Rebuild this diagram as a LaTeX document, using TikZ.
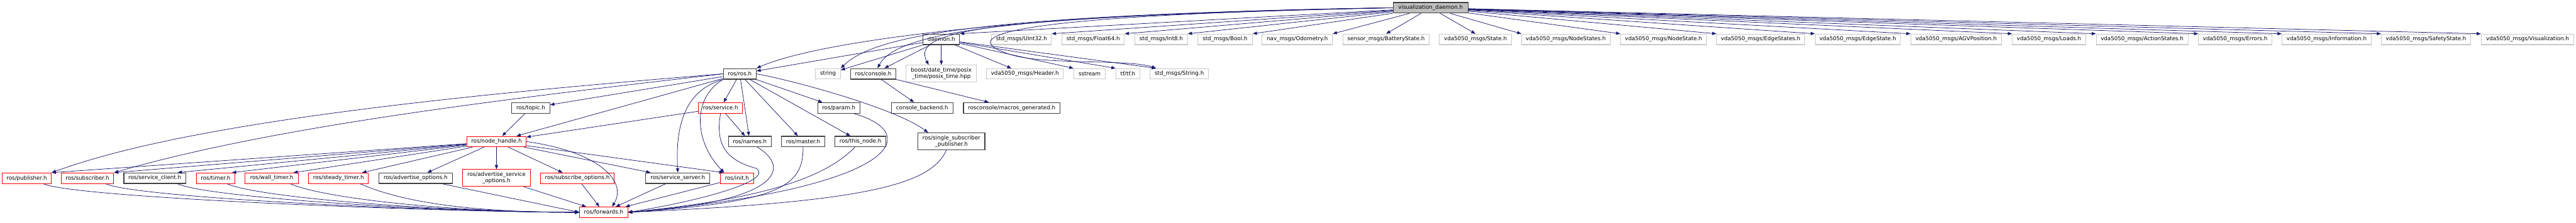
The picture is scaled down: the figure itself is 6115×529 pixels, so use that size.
\documentclass[tikz,border=0pt]{standalone}
\usepackage{fontspec}
\setmainfont{DejaVu Sans}
\usetikzlibrary{arrows.meta}
\definecolor{edgeblue}{HTML}{191970}
\definecolor{sysgray}{HTML}{C8C8C8}
\definecolor{rootgray}{HTML}{BFBFBF}

\begin{document}
\begin{tikzpicture}[
    x=1pt, y=-1pt,
    file/.style={rectangle, minimum height=25pt, inner sep=0pt, align=center, fill=white, font=\fontsize{13}{15}\selectfont, line width=1.5pt},
    docfile/.style={file, draw=black!75, line width=1.8pt},
    truncfile/.style={file, draw=red},
    sysfile/.style={file, draw=sysgray},
    rootfile/.style={file, draw=black!75, fill=rootgray, line width=1.8pt},
    dep/.style={draw=edgeblue, line width=1.1pt, -{Triangle[length=10pt,width=7.5pt]}}
]
    \useasboundingbox (0,0) rectangle (6115,529);

    % ================= ROOT =================
    \node[rootfile, minimum width=178pt] (VD) at (3396,18.5) {visualization\_daemon.h};

    % ================= DIRECT INCLUDES =================
    \node[docfile, minimum width=87pt] (DAEMON) at (2234.5,93.5) {daemon.h};
    \node[sysfile, minimum width=142pt] (UINT) at (2425,93.5) {std\_msgs/UInt32.h};
    \node[sysfile, minimum width=148pt] (FLOAT) at (2595,93.5) {std\_msgs/Float64.h};
    \node[sysfile, minimum width=125pt] (INT) at (2756.5,93.5) {std\_msgs/Int8.h};
    \node[sysfile, minimum width=130pt] (BOOL) at (2908,93.5) {std\_msgs/Bool.h};
    \node[sysfile, minimum width=167pt] (ODOM) at (3079.5,93.5) {nav\_msgs/Odometry.h};
    \node[sysfile, minimum width=205pt] (BATT) at (3290.5,93.5) {sensor\_msgs/BatteryState.h};
    \node[sysfile, minimum width=171pt] (STATE) at (3502.5,93.5) {vda5050\_msgs/State.h};
    \node[sysfile, minimum width=210pt] (NSTATES) at (3717,93.5) {vda5050\_msgs/NodeStates.h};
    \node[sysfile, minimum width=204pt] (NSTATE) at (3949,93.5) {vda5050\_msgs/NodeState.h};
    \node[sysfile, minimum width=209pt] (ESTATES) at (4179.5,93.5) {vda5050\_msgs/EdgeStates.h};
    \node[sysfile, minimum width=202pt] (ESTATE) at (4410,93.5) {vda5050\_msgs/EdgeState.h};
    \node[sysfile, minimum width=215pt] (AGVPOS) at (4643.5,93.5) {vda5050\_msgs/AGVPosition.h};
    \node[sysfile, minimum width=174pt] (LOADS) at (4864,93.5) {vda5050\_msgs/Loads.h};
    \node[sysfile, minimum width=218pt] (ASTATES) at (5085,93.5) {vda5050\_msgs/ActionStates.h};
    \node[sysfile, minimum width=174pt] (ERRORS) at (5306,93.5) {vda5050\_msgs/Errors.h};
    \node[sysfile, minimum width=212pt] (INFO) at (5523,93.5) {vda5050\_msgs/Information.h};
    \node[sysfile, minimum width=212pt] (SAFETY) at (5759,93.5) {vda5050\_msgs/SafetyState.h};
    \node[sysfile, minimum width=220pt] (VISU) at (6000,93.5) {vda5050\_msgs/Visualization.h};

    % ================= SECOND LEVEL =================
    \node[docfile, minimum width=78pt] (ROSH) at (1756,175.5) {ros/ros.h};
    \node[sysfile, minimum width=59pt] (STRING) at (1965.5,175.5) {string};
    \node[docfile, minimum width=108pt] (CONSOLE) at (2073,175.5) {ros/console.h};
    \node[sysfile, minimum width=167pt, minimum height=40pt] (BOOST) at (2234.5,175) {boost/date\_time/posix\\\_time/posix\_time.hpp};
    \node[sysfile, minimum width=182pt] (HEADER) at (2433,175.5) {vda5050\_msgs/Header.h};
    \node[sysfile, minimum width=75pt] (SSTREAM) at (2586.5,175.5) {sstream};
    \node[sysfile, minimum width=57pt] (TF) at (2677.5,175.5) {tf/tf.h};
    \node[sysfile, minimum width=139pt] (STRMSG) at (2799.5,175.5) {std\_msgs/String.h};

    \node[docfile, minimum width=90pt] (TOPIC) at (1260,256.5) {ros/topic.h};
    \node[truncfile, minimum width=105pt] (SERVICE) at (1710.5,256.5) {ros/service.h};
    \node[docfile, minimum width=100pt] (PARAM) at (1991,256.5) {ros/param.h};
    \node[docfile, minimum width=146pt] (BACKEND) at (2189,256.5) {console\_backend.h};
    \node[docfile, minimum width=229pt] (MACROS) at (2401.5,256.5) {rosconsole/macros\_generated.h};

    \node[truncfile, minimum width=141pt] (NH) at (1178.5,336.5) {ros/node\_handle.h};
    \node[docfile, minimum width=102pt] (NAMES) at (1780,336.5) {ros/names.h};
    \node[docfile, minimum width=103pt] (MASTER) at (1906.5,336.5) {ros/master.h};
    \node[docfile, minimum width=121pt] (THISNODE) at (2042.5,336.5) {ros/this\_node.h};
    \node[docfile, minimum width=159pt, minimum height=40pt] (SINGLE) at (2258.5,336) {ros/single\_subscriber\\\_publisher.h};

    % ================= NODE HANDLE LEVEL =================
    \node[truncfile, minimum width=117pt] (PUB) at (63.5,423.5) {ros/publisher.h};
    \node[truncfile, minimum width=125pt] (SUB) at (207.5,423.5) {ros/subscriber.h};
    \node[docfile, minimum width=147pt] (SRVCLIENT) at (367.5,423.5) {ros/service\_client.h};
    \node[truncfile, minimum width=92pt] (TIMER) at (512,423.5) {ros/timer.h};
    \node[truncfile, minimum width=126pt] (WALLTIMER) at (645,423.5) {ros/wall\_timer.h};
    \node[truncfile, minimum width=141pt] (STEADYTIMER) at (803.5,423.5) {ros/steady\_timer.h};
    \node[docfile, minimum width=175pt] (ADVOPTS) at (986.5,423.5) {ros/advertise\_options.h};
    \node[truncfile, minimum width=161pt, minimum height=40pt] (ADVSRVOPTS) at (1178.5,423) {ros/advertise\_service\\\_options.h};
    \node[truncfile, minimum width=175pt] (SUBOPTS) at (1370.5,423.5) {ros/subscribe\_options.h};
    \node[docfile, minimum width=152pt] (SRVSERVER) at (1609,423.5) {ros/service\_server.h};
    \node[truncfile, minimum width=79pt] (INIT) at (1749.5,423.5) {ros/init.h};

    \node[truncfile, minimum width=114pt] (FWD) at (1433,504.5) {ros/forwards.h};

    % ================= EDGES FROM ROOT =================
    \foreach \dst in {DAEMON,UINT,FLOAT,INT,BOOL,ODOM}
        \draw[dep] (VD) -- (\dst.north east);
    \draw[dep] (VD) -- (BATT.north);
    \draw[dep] (VD) -- (STATE.north);
    \foreach \dst in {NSTATES,NSTATE,ESTATES,ESTATE,AGVPOS,LOADS,ASTATES,ERRORS,INFO,SAFETY,VISU}
        \draw[dep] (VD) -- (\dst.north west);

    \draw[dep] (VD.west) .. controls (2450,30) and (1950,95) .. (ROSH.north east);
    \draw[dep] (VD.west) .. controls (2350,35) and (2080,80) .. (STRING.north east);
    \draw[dep] (VD.west) .. controls (2400,35) and (2130,75) .. ([xshift=10pt]CONSOLE.north);
    \draw[dep] (VD.west) .. controls (2350,40) and (2160,70) .. ([xshift=-30pt]BOOST.north);
    \draw[dep] (VD.west) .. controls (2450,35) and (2240,80) .. (2400,130)
        .. controls (2480,155) and (2680,140) .. ([xshift=15pt]STRMSG.north west);

    % ================= daemon.h =================
    \draw[dep] (DAEMON) -- (ROSH);
    \draw[dep] (DAEMON) -- (STRING);
    \draw[dep] (DAEMON) -- (CONSOLE);
    \draw[dep] (DAEMON) -- (BOOST);
    \draw[dep] (DAEMON) -- (HEADER);
    \draw[dep] (DAEMON) -- (SSTREAM.north west);
    \draw[dep] (DAEMON) -- (TF.north west);
    \draw[dep] (DAEMON) -- ([xshift=15pt]STRMSG.north west);

    % ================= ros/console.h =================
    \draw[dep] (CONSOLE) -- (BACKEND);
    \draw[dep] (CONSOLE) -- (MACROS);

    % ================= ros/ros.h =================
    \draw[dep] (ROSH.west) .. controls (1100,225) and (450,290) .. (PUB.north east);
    \draw[dep] (ROSH.west) .. controls (1200,235) and (650,300) .. (SUB.north east);
    \draw[dep] (ROSH) -- (TOPIC);
    \draw[dep] (ROSH) -- (NH);
    \draw[dep] (ROSH.south west) .. controls (1625,215) and (1603,300) .. (SRVSERVER.north);
    \draw[dep] (ROSH.south west) .. controls (1640,235) and (1650,340) .. ([xshift=10pt]INIT.north west);
    \draw[dep] (ROSH) -- (SERVICE);
    \draw[dep] (ROSH) -- (NAMES);
    \draw[dep] (ROSH) -- (MASTER);
    \draw[dep] (ROSH) -- (THISNODE);
    \draw[dep] (ROSH) -- (PARAM);
    \draw[dep] (ROSH.east) .. controls (1900,195) and (2130,260) .. ([xshift=25pt]SINGLE.north west);

    % ================= topic / service =================
    \draw[dep] (TOPIC) -- (NH);
    \draw[dep] (SERVICE) -- (NH);
    \draw[dep] (SERVICE) -- (NAMES);
    \draw[dep] (SERVICE.south) .. controls (1698,340) and (1720,380) .. (1795,400)
        .. controls (1840,430) and (1650,480) .. (FWD.east);

    % ================= ros/node_handle.h =================
    \draw[dep] (NH) -- (PUB.north east);
    \draw[dep] (NH) -- (SUB.north east);
    \draw[dep] (NH) -- ([xshift=-20pt]SRVCLIENT.north east);
    \draw[dep] (NH) -- ([xshift=-8pt]TIMER.north east);
    \draw[dep] (NH) -- ([xshift=-12pt]WALLTIMER.north east);
    \draw[dep] (NH) -- ([xshift=-15pt]STEADYTIMER.north east);
    \draw[dep] (NH) -- ([xshift=28pt]ADVOPTS.north);
    \draw[dep] (NH) -- (ADVSRVOPTS);
    \draw[dep] (NH) -- ([xshift=-35pt]SUBOPTS.north);
    \draw[dep] (NH) -- ([xshift=12pt]SRVSERVER.north west);
    \draw[dep] (NH) -- ([xshift=8pt]INIT.north west);
    \draw[dep] (NH.east) .. controls (1420,360) and (1490,430) .. ([xshift=20pt]FWD.north);

    % ================= INTO ros/forwards.h =================
    \foreach \src in {PUB,SUB,SRVCLIENT,TIMER,WALLTIMER,STEADYTIMER}
        \draw[dep] ([xshift=-20pt]\src.south east) .. controls +(80,35) and +(-300,0) .. (FWD.west);
    \draw[dep] ([xshift=-25pt]ADVOPTS.south east) -- (FWD.west);
    \draw[dep] (ADVSRVOPTS) -- (FWD);
    \draw[dep] (SUBOPTS) -- (FWD);
    \draw[dep] (SRVSERVER) -- (FWD);
    \draw[dep] (INIT) -- (FWD);
    \draw[dep] ([xshift=18pt]NAMES.south) .. controls (1880,400) and (1850,480) .. (FWD.east);
    \draw[dep] (MASTER.south) .. controls (1906,440) and (1860,480) .. (FWD.east);
    \draw[dep] ([xshift=-13pt]THISNODE.south) .. controls (1970,410) and (1850,470) .. (FWD.east);
    \draw[dep] ([xshift=36pt]PARAM.south) .. controls (2200,320) and (2120,450) .. (FWD.east);
    \draw[dep] ([xshift=-12pt]SINGLE.south) .. controls (2210,440) and (2050,480) .. (FWD.east);

\end{tikzpicture}
\end{document}
